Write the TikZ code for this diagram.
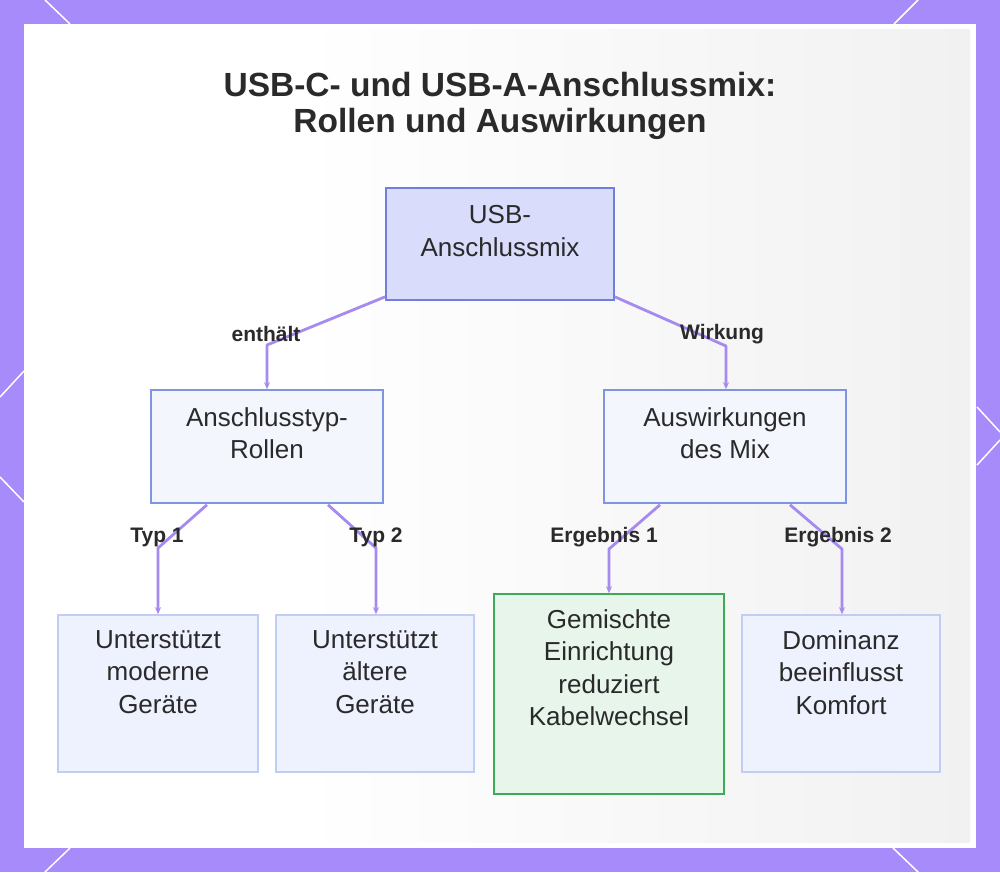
\documentclass[tikz,border=0pt]{standalone}
\usepackage{fontspec}
\setmainfont{Liberation Sans}
\usetikzlibrary{arrows.meta,calc}
\definecolor{framecol}{HTML}{A78BFA}
\definecolor{edgecol}{HTML}{A68AF0}
\definecolor{rootfill}{HTML}{D9DCFA}
\definecolor{rootdraw}{HTML}{6E80DC}
\definecolor{midfill}{HTML}{F4F6FE}
\definecolor{middraw}{HTML}{8094E4}
\definecolor{leaffill}{HTML}{EEF1FE}
\definecolor{leafdraw}{HTML}{C2CDF4}
\definecolor{greenfill}{HTML}{E7F5EA}
\definecolor{greendraw}{HTML}{3DAA5A}
\definecolor{txt}{HTML}{2A2A2A}
\definecolor{paneldark}{HTML}{F1F1F1}
\tikzset{
  boxbase/.style={rectangle, inner sep=0pt, line width=1.6pt},
  rootbox/.style={boxbase, draw=rootdraw, fill=rootfill},
  midbox/.style={boxbase, draw=middraw, fill=midfill},
  leafbox/.style={boxbase, draw=leafdraw, fill=leaffill},
  greenbox/.style={boxbase, draw=greendraw, fill=greenfill},
  boxtext/.style={anchor=north, inner sep=0pt, align=center, text=txt,
    font=\fontsize{26}{32.5}\selectfont},
  edge/.style={draw=edgecol, line width=2.8pt, line join=round,
    -{Stealth[length=7pt,width=6pt]}},
  elabel/.style={inner sep=0pt, text=txt, font=\fontsize{21}{25}\selectfont\bfseries},
  deco/.style={white, line width=1.5pt}
}
\begin{document}
\begin{tikzpicture}[x=1pt,y=-1pt]
\useasboundingbox (0,0) rectangle (1000,872);
% frame
\fill[framecol] (0,0) rectangle (1000,872);
\draw[deco] (45,0) -- (70,24);
\draw[deco] (918,0) -- (894,24);
\draw[deco] (70,848) -- (45,872);
\draw[deco] (893,848) -- (918,872);
\draw[deco] (0,397) -- (24,371);
\draw[deco] (0,477) -- (24,502);
\draw[deco] (977,407) -- (1000,432);
\draw[deco] (977,465) -- (1000,440);
% panel
\fill[white] (24,24) rectangle (976,848);
\shade[left color=white, right color=paneldark] (300,30) rectangle (970,842);

% title
\node[inner sep=0pt, align=center, text=txt,
  font=\fontsize{33.5}{36.5}\selectfont\bfseries] (title) at (500,106)
  {USB-C- und USB-A-Anschlussmix:\\Rollen und Auswirkungen};

% boxes
\node[rootbox, minimum width=228pt, minimum height=112pt] (root) at (500,244) {};
\node[midbox, minimum width=232pt, minimum height=113pt] (mL) at (267,446.5) {};
\node[midbox, minimum width=242pt, minimum height=113pt] (mR) at (725,446.5) {};
\node[leafbox, minimum width=200pt, minimum height=157pt] (l1) at (158,693.5) {};
\node[leafbox, minimum width=198pt, minimum height=157pt] (l2) at (375,693.5) {};
\node[greenbox, minimum width=230pt, minimum height=200pt] (l3) at (609,694) {};
\node[leafbox, minimum width=198pt, minimum height=157pt] (l4) at (841,693.5) {};

% box texts
\node[boxtext] (trt) at ($(root.north)+(0,18)$) {USB-\\Anschlussmix};
\node[boxtext] (tmL) at ($(mL.north)+(0,18)$) {Anschlusstyp-\\Rollen};
\node[boxtext] (tmR) at ($(mR.north)+(0,18)$) {Auswirkungen\\des Mix};
\node[boxtext] (tl1) at ($(l1.north)+(0,16)$) {Unterstützt\\moderne\\Geräte};
\node[boxtext] (tl2) at ($(l2.north)+(0,16)$) {Unterstützt\\ältere\\Geräte};
\node[boxtext] (tl3) at ($(l3.north)+(0,16)$) {Gemischte\\Einrichtung\\reduziert\\Kabelwechsel};
\node[boxtext] (tl4) at ($(l4.north)+(0,16)$) {Dominanz\\beeinflusst\\Komfort};

% bends
\coordinate (b1) at (267,345);
\coordinate (b2) at (726,346);
\coordinate (b3) at (158,548);
\coordinate (b4) at (376,548);
\coordinate (b5) at (609,549);
\coordinate (b6) at (842,549);

% edges
\draw[edge] ($(root.south west)+(0,-4)$) -- (b1) -- (mL.north);
\draw[edge] ($(root.south east)+(0,-4)$) -- (b2) -- (mR.north-|b2);
\draw[edge] ($(mL.south)+(-60,1)$) -- (b3) -- (l1.north-|b3);
\draw[edge] ($(mL.south)+(61,1)$) -- (b4) -- (l2.north-|b4);
\draw[edge] ($(mR.south)+(-65,1)$) -- (b5) -- (l3.north-|b5);
\draw[edge] ($(mR.south)+(65,1)$) -- (b6) -- (l4.north-|b6);

% edge labels
\node[elabel] (e1) at (266,334) {enthält};
\node[elabel] (e2) at (722,334) {Wirkung};
\node[elabel] (e3) at (157,537) {Typ 1};
\node[elabel] (e4) at (376,537) {Typ 2};
\node[elabel] (e5) at (604,537) {Ergebnis 1};
\node[elabel] (e6) at (838,537) {Ergebnis 2};
\end{tikzpicture}
\end{document}
